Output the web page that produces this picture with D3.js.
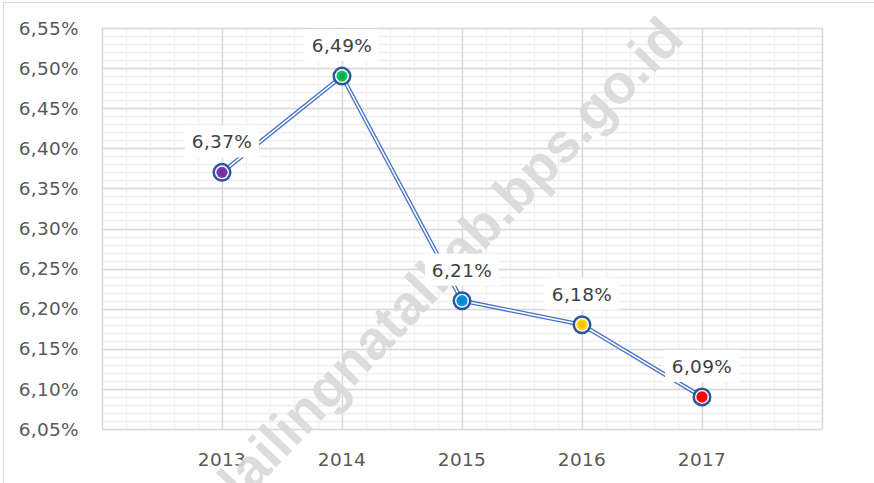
<!DOCTYPE html>
<html>
<head>
<meta charset="utf-8">
<script src="https://cdn.jsdelivr.net/npm/d3@7"></script>
<style>
  body { margin: 0; background: #fff; }
  svg { display: block; font-family: "DejaVu Sans", sans-serif; }
</style>
</head>
<body>
<svg id="chart"></svg>
<script>
// data
const years = ['2013', '2014', '2015', '2016', '2017'];
const values = [6.37, 6.49, 6.21, 6.18, 6.09];
const markerColors = ['#7030A0', '#00B050', '#0087D0', '#FFC000', '#FF0000'];
const yTicks = [6.05, 6.10, 6.15, 6.20, 6.25, 6.30, 6.35, 6.40, 6.45, 6.50, 6.55];
const watermark = 'mandailingnatalkab.bps.go.id';

const width = 874, height = 483;
const margin = {top: 28, right: 52, bottom: 54, left: 102};
const fmt = d => d.toFixed(2).replace('.', ',') + '%';

const svg = d3.select('#chart')
    .attr('width', width)
    .attr('height', height);

// chart border (only top and left visible)
svg.append('rect')
    .attr('x', 3.5).attr('y', 2.5)
    .attr('width', width + 20).attr('height', height + 20)
    .attr('fill', 'none')
    .attr('stroke', '#d9d9d9');

const x = d3.scalePoint()
    .domain(years)
    .range([margin.left, width - margin.right])
    .padding(1);

// helper for the vertical grid (one step = one category)
const xi = d3.scaleLinear()
    .domain([-1, years.length])
    .range([margin.left, width - margin.right]);

const y = d3.scaleLinear()
    .domain([6.05, 6.55])
    .range([height - margin.bottom, margin.top]);

const grid = svg.append('g');

// minor grid
const minorY = d3.range(0, 51).map(i => 6.05 + i * 0.01);
grid.selectAll('.minor-h')
    .data(minorY)
    .join('line')
    .attr('x1', margin.left).attr('x2', width - margin.right)
    .attr('y1', d => Math.round(y(d)) + 0.5).attr('y2', d => Math.round(y(d)) + 0.5)
    .attr('stroke', '#efefef').attr('stroke-width', 1.5);

const minorX = d3.range(0, 31).map(i => -1 + i * 0.2);
grid.selectAll('.minor-v')
    .data(minorX)
    .join('line')
    .attr('x1', d => Math.round(xi(d)) + 0.5).attr('x2', d => Math.round(xi(d)) + 0.5)
    .attr('y1', margin.top).attr('y2', height - margin.bottom)
    .attr('stroke', '#efefef').attr('stroke-width', 1.5);

// major grid
grid.selectAll('.major-h')
    .data(yTicks)
    .join('line')
    .attr('x1', margin.left).attr('x2', width - margin.right)
    .attr('y1', d => Math.round(y(d)) + 0.5).attr('y2', d => Math.round(y(d)) + 0.5)
    .attr('stroke', '#d9d9d9').attr('stroke-width', 1.3);

grid.selectAll('.major-v')
    .data(d3.range(-1, years.length + 1))
    .join('line')
    .attr('x1', d => Math.round(xi(d)) + 0.5).attr('x2', d => Math.round(xi(d)) + 0.5)
    .attr('y1', margin.top).attr('y2', height - margin.bottom)
    .attr('stroke', '#d9d9d9').attr('stroke-width', 1.3);

// y axis labels
svg.append('g')
    .selectAll('text')
    .data(yTicks)
    .join('text')
    .attr('x', 79)
    .attr('y', d => y(d))
    .attr('dy', '0.36em')
    .attr('text-anchor', 'end')
    .attr('fill', '#595959')
    .style('font-size', '18.5px')
    .style('letter-spacing', '0.3px')
    .text(fmt);

// x axis labels
svg.append('g')
    .selectAll('text')
    .data(years)
    .join('text')
    .attr('x', d => x(d))
    .attr('y', 466)
    .attr('text-anchor', 'middle')
    .attr('fill', '#595959')
    .style('font-size', '18.5px')
    .style('letter-spacing', '0.3px')
    .text(d => d);

// watermark
svg.append('text')
    .attr('transform', 'translate(686,40) rotate(-46.2)')
    .attr('text-anchor', 'end')
    .attr('fill', '#d9d9d9')
    .attr('opacity', 0.9)
    .style('font-family', '"Liberation Sans", Arial, sans-serif')
    .style('font-weight', 'bold')
    .style('font-size', '55px')
    .text(watermark);

// double line
const pts = years.map((yr, i) => [x(yr), y(values[i])]);
const line = d3.line();
svg.append('path')
    .attr('d', line(pts))
    .attr('fill', 'none')
    .attr('stroke', '#4472C4')
    .attr('stroke-width', 4.2);
svg.append('path')
    .attr('d', line(pts))
    .attr('fill', 'none')
    .attr('stroke', '#ffffff')
    .attr('stroke-width', 1.6);

// data labels with white box
const labels = svg.append('g')
    .selectAll('g')
    .data(years)
    .join('g')
    .attr('transform', (d, i) => `translate(${x(d)},${y(values[i]) - 24})`);

labels.append('rect')
    .attr('x', -37).attr('y', -23)
    .attr('width', 74).attr('height', 32)
    .attr('fill', '#ffffff');

labels.append('text')
    .attr('text-anchor', 'middle')
    .attr('fill', '#404040')
    .style('font-size', '18.5px')
    .style('letter-spacing', '0.3px')
    .text((d, i) => fmt(values[i]));

// markers
const markers = svg.append('g')
    .selectAll('g')
    .data(years)
    .join('g')
    .attr('transform', (d, i) => `translate(${x(d)},${y(values[i])})`);

markers.append('circle')
    .attr('r', 9.5)
    .attr('fill', '#2F5597');
markers.append('circle')
    .attr('r', 7)
    .attr('fill', '#ffffff');
markers.append('circle')
    .attr('r', 5.6)
    .attr('fill', (d, i) => d3.color(markerColors[i]).brighter(0.3));
markers.append('circle')
    .attr('r', 3.2)
    .attr('fill', (d, i) => markerColors[i]);
</script>
</body>
</html>
